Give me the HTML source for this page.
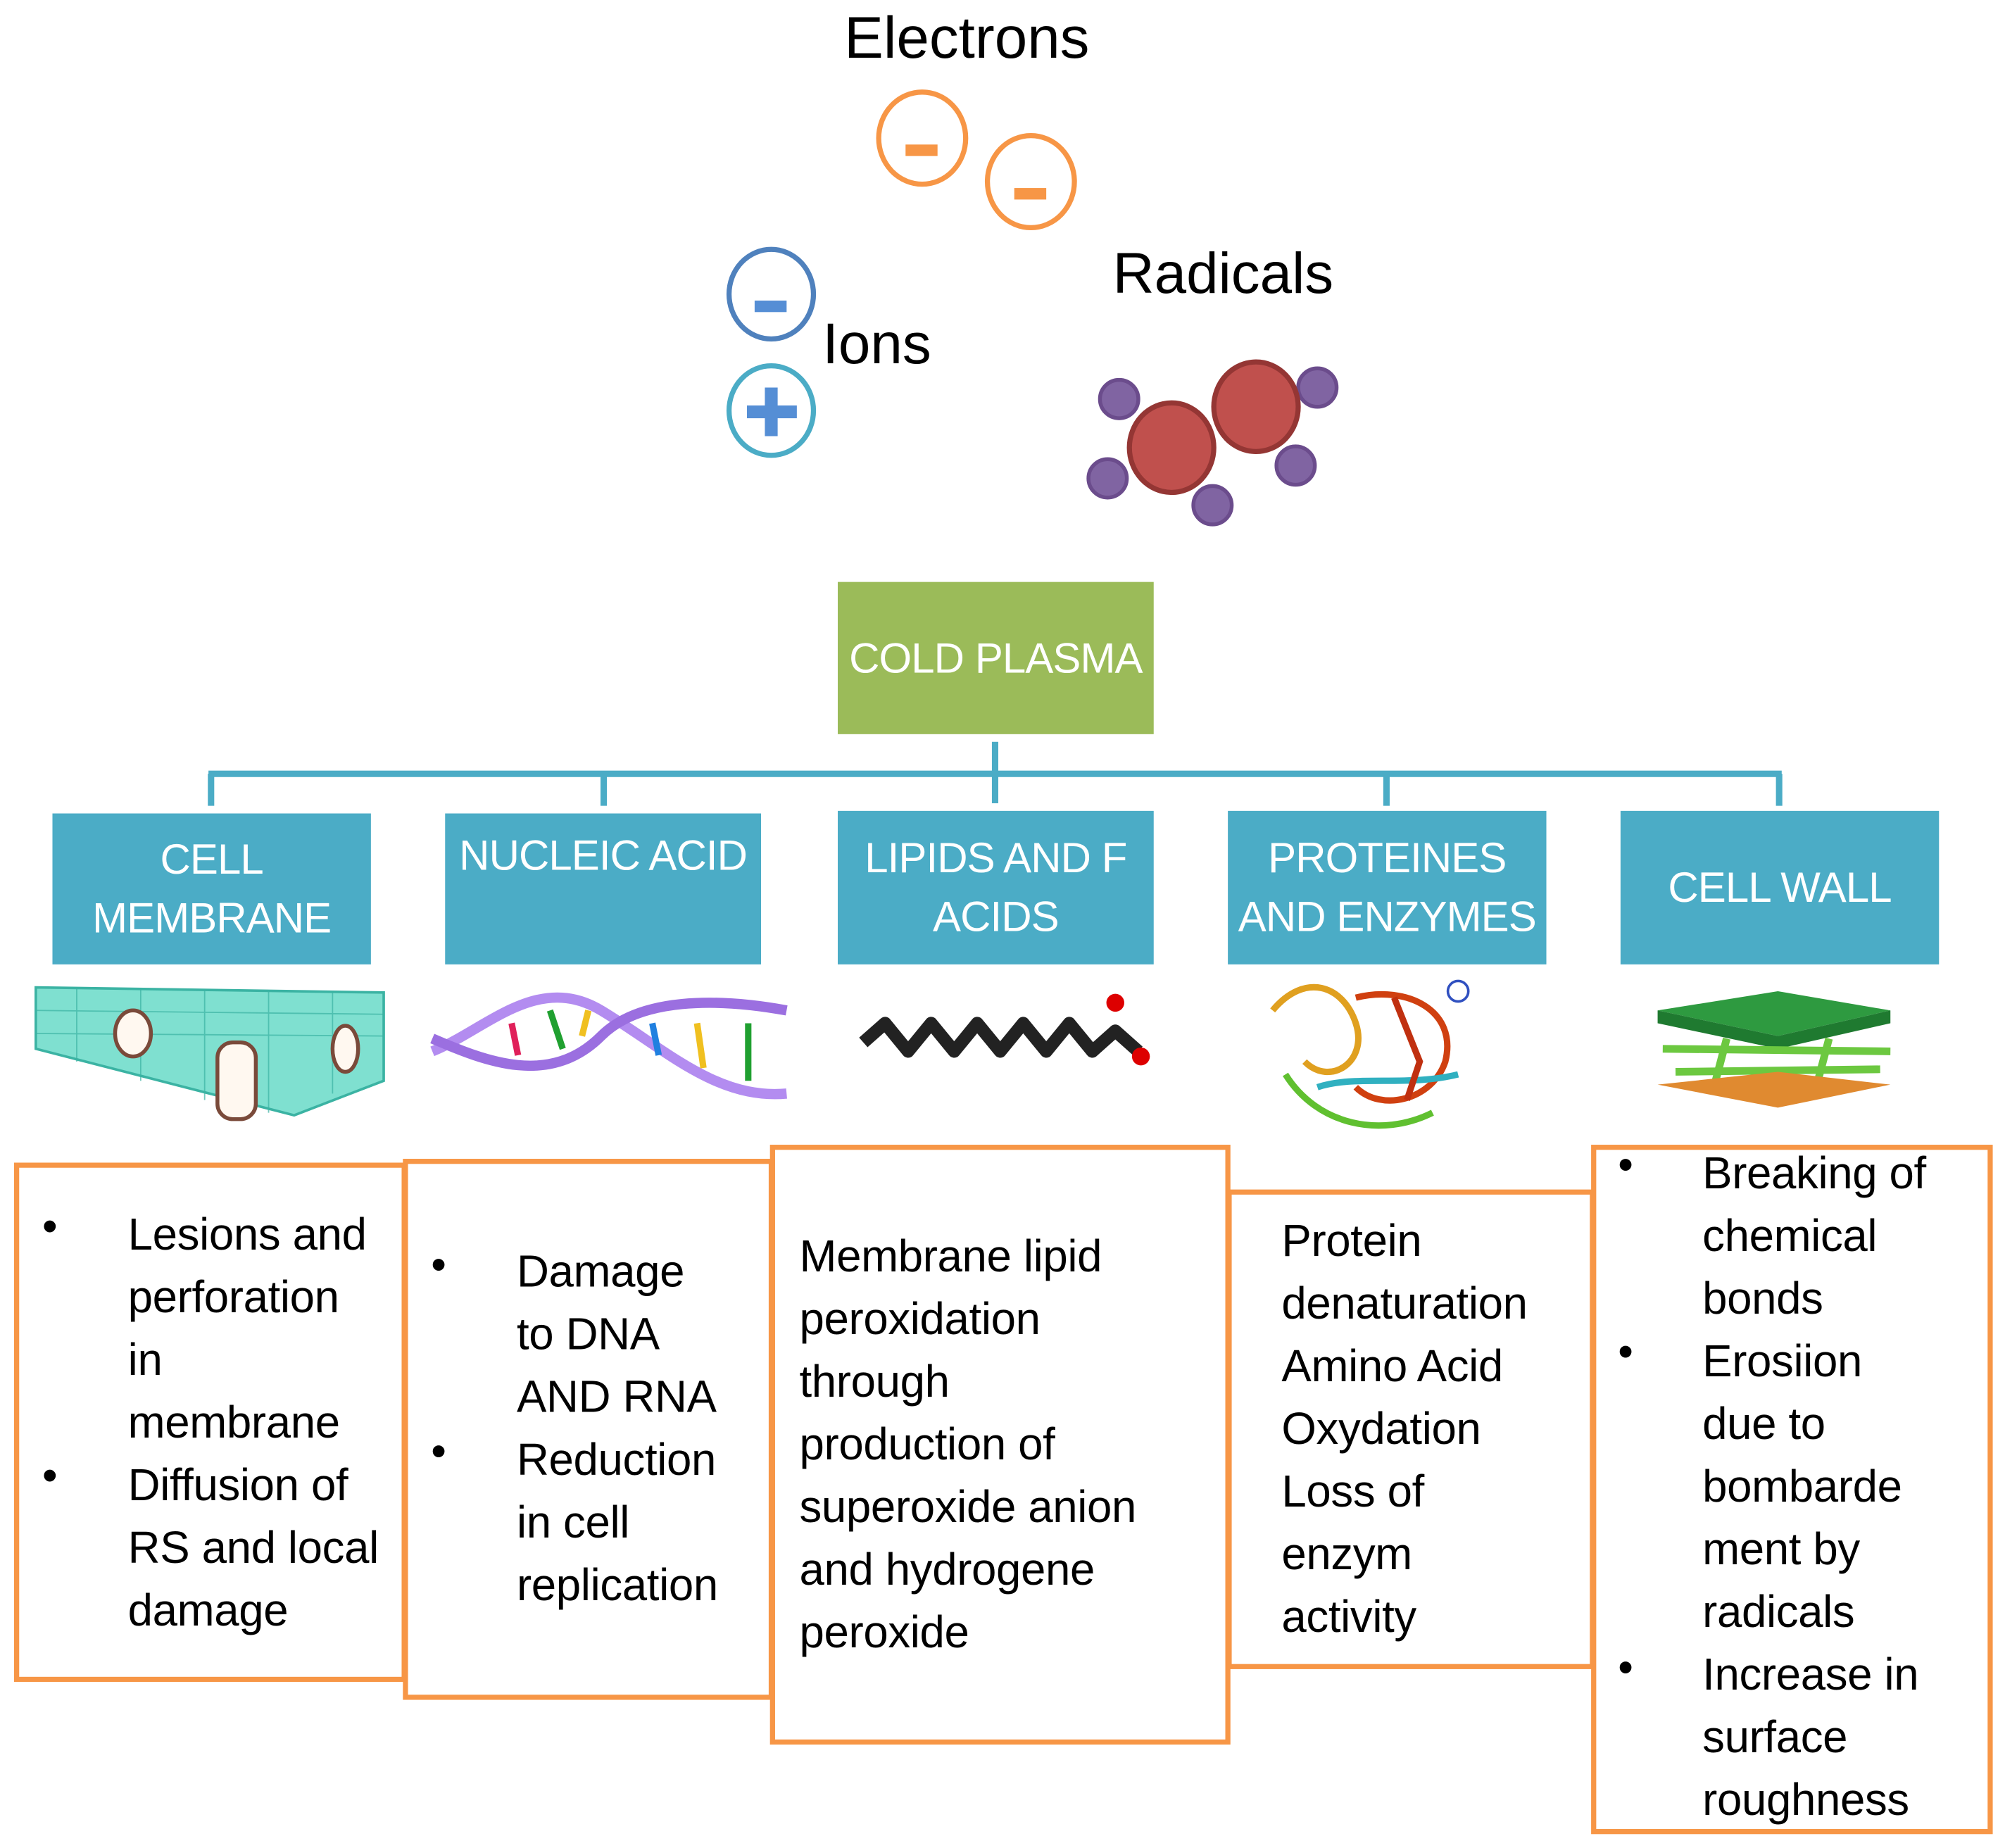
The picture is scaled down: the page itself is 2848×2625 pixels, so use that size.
<!DOCTYPE html>
<html><head><meta charset="utf-8">
<style>
html,body{margin:0;padding:0;background:#fff;}
body{width:2848px;height:2622px;overflow:hidden;position:relative;}
#s{position:absolute;left:0;top:0;width:1570px;height:1445px;transform:scale(1.8168,1.8168);transform-origin:0 0;font-family:"Liberation Sans",sans-serif;}
.t{position:absolute;white-space:nowrap;color:#000;}
.b{position:absolute;background:#4BACC6;color:#fff;font-size:33px;text-align:center;display:flex;align-items:center;justify-content:center;line-height:46px;letter-spacing:-0.5px;}
.o{position:absolute;border:4px solid #F79646;box-sizing:border-box;}
.tx{position:absolute;font-size:35px;line-height:49px;white-space:nowrap;letter-spacing:-0.2px;color:#000;}
.bl{position:absolute;font-size:34px;}
</style></head><body><div id="s">
<svg width="1570" height="1445" style="position:absolute;left:0;top:0">
 <g fill="none" stroke-width="4">
  <ellipse cx="721" cy="108" rx="34" ry="36" stroke="#F79646"/>
  <ellipse cx="806" cy="142" rx="34" ry="36" stroke="#F79646"/>
  <ellipse cx="603" cy="230" rx="33" ry="35" stroke="#4F81BD"/>
  <ellipse cx="603" cy="321" rx="33" ry="35" stroke="#4BACC6"/>
 </g>
 <rect x="708" y="113" width="25" height="9" fill="#F79646"/>
 <rect x="793" y="147" width="25" height="9" fill="#F79646"/>
 <rect x="590" y="235" width="25" height="9" fill="#558ED5"/>
 <rect x="598" y="303" width="10" height="38" fill="#558ED5"/>
 <rect x="584" y="317" width="39" height="10" fill="#558ED5"/>
 <g stroke="#6B4C8C" stroke-width="3" fill="#8064A2">
  <circle cx="875" cy="312" r="15"/><circle cx="866" cy="374" r="15"/><circle cx="948" cy="395" r="15"/><circle cx="1030" cy="303" r="15"/><circle cx="1013" cy="364" r="15"/>
 </g>
 <g stroke="#943634" stroke-width="4" fill="#C0504D">
  <ellipse cx="916" cy="350" rx="33" ry="35"/><ellipse cx="982" cy="318" rx="33" ry="35"/>
 </g>
 <g stroke="#4BACC6" stroke-width="5" fill="none">
  <line x1="778" y1="580" x2="778" y2="628"/>
  <line x1="163" y1="605" x2="1393" y2="605"/>
  <line x1="165" y1="605" x2="165" y2="630"/>
  <line x1="472" y1="605" x2="472" y2="630"/>
  <line x1="1084" y1="605" x2="1084" y2="630"/>
  <line x1="1391" y1="605" x2="1391" y2="630"/>
 </g>
 <!-- membrane -->
 <polygon points="28,772 300,776 300,845 230,872 28,820" fill="#7FE0D0" stroke="#3BB3A3" stroke-width="2"/>
 <g stroke="#3BB3A3" stroke-width="1" opacity=".7">
  <line x1="28" y1="790" x2="300" y2="793"/><line x1="28" y1="808" x2="300" y2="810"/><line x1="60" y1="772" x2="60" y2="830"/><line x1="110" y1="773" x2="110" y2="845"/><line x1="160" y1="774" x2="160" y2="860"/><line x1="210" y1="775" x2="210" y2="870"/><line x1="260" y1="775" x2="260" y2="855"/>
 </g>
 <ellipse cx="104" cy="808" rx="14" ry="18" fill="#fff8f0" stroke="#7a4a3a" stroke-width="3"/>
 <rect x="170" y="815" width="30" height="60" rx="12" fill="#fff8f0" stroke="#7a4a3a" stroke-width="3"/>
 <ellipse cx="270" cy="820" rx="10" ry="18" fill="#fff8f0" stroke="#7a4a3a" stroke-width="3"/>
 <!-- DNA -->
 <path d="M338,822 C380,805 420,760 470,790 C520,820 560,860 615,855" fill="none" stroke="#B38CF0" stroke-width="8"/>
 <path d="M338,812 C380,830 430,850 470,810 C500,780 560,780 615,790" fill="none" stroke="#9B6FE0" stroke-width="8"/>
 <g stroke-width="5"><line x1="400" y1="800" x2="405" y2="825" stroke="#E0205A"/><line x1="430" y1="790" x2="440" y2="820" stroke="#20A030"/><line x1="460" y1="790" x2="455" y2="810" stroke="#F0C020"/><line x1="510" y1="800" x2="515" y2="825" stroke="#2080E0"/><line x1="545" y1="800" x2="550" y2="835" stroke="#F0C020"/><line x1="585" y1="800" x2="585" y2="845" stroke="#20A030"/></g>
 <!-- fatty acid -->
 <polyline points="675,815 692,800 710,822 728,800 746,822 764,800 782,822 800,800 818,822 836,800 854,822 872,806 890,822" fill="none" stroke="#222" stroke-width="10" stroke-linejoin="round"/>
 <circle cx="872" cy="784" r="7" fill="#d00"/><circle cx="892" cy="826" r="7" fill="#d00"/>
 <!-- protein -->
 <g fill="none" stroke-width="5">
  <path d="M995,790 C1020,760 1050,770 1060,800 C1070,830 1040,850 1020,830" stroke="#E0A020"/>
  <path d="M1060,780 C1100,770 1140,790 1130,830 C1120,860 1080,870 1060,850" stroke="#D04010"/>
  <path d="M1005,840 C1030,880 1080,890 1120,870" stroke="#60C030"/>
  <path d="M1030,850 C1060,840 1100,850 1140,840" stroke="#30B0C0"/>
  <path d="M1090,780 L1110,830 L1100,860" stroke="#C03010"/>
  <circle cx="1140" cy="775" r="8" stroke="#3050C0" stroke-width="2"/>
 </g>
 <!-- cell wall -->
 <polygon points="1296,790 1390,775 1478,790 1390,810" fill="#2E9A40"/>
 <polygon points="1296,790 1390,810 1478,790 1478,800 1390,820 1296,800" fill="#1F7A30"/>
 <g stroke="#6CC840" stroke-width="6"><line x1="1300" y1="820" x2="1478" y2="822"/><line x1="1310" y1="838" x2="1470" y2="836"/><line x1="1350" y1="812" x2="1340" y2="850"/><line x1="1430" y1="812" x2="1420" y2="850"/></g>
 <polygon points="1296,848 1390,838 1478,848 1390,866" fill="#E08A30"/>
</svg>
<div class="t" style="left:660px;top:2px;font-size:46px;">Electrons</div>
<div class="t" style="left:643px;top:243px;font-size:45px;">Ions</div>
<div class="t" style="left:870px;top:188px;font-size:45px;">Radicals</div>
<div class="b" style="left:655px;top:455px;width:247px;height:119px;background:#9BBB59;">COLD PLASMA</div>
<div class="b" style="left:41px;top:636px;width:249px;height:118px;">CELL<br>MEMBRANE</div>
<div class="b" style="left:348px;top:636px;width:247px;height:118px;align-items:flex-start;padding-top:10px;box-sizing:border-box;">NUCLEIC ACID</div>
<div class="b" style="left:655px;top:634px;width:247px;height:120px;">LIPIDS AND F<br>ACIDS</div>
<div class="b" style="left:960px;top:634px;width:249px;height:120px;">PROTEINES<br>AND ENZYMES</div>
<div class="b" style="left:1267px;top:634px;width:249px;height:120px;">CELL WALL</div>
<div class="o" style="left:11px;top:909px;width:307px;height:406px;"></div>
<div class="o" style="left:315px;top:906px;width:290px;height:423px;"></div>
<div class="o" style="left:602px;top:895px;width:360px;height:469px;"></div>
<div class="o" style="left:959px;top:930px;width:288px;height:375px;"></div>
<div class="o" style="left:1244px;top:895px;width:314px;height:539px;"></div>
<div class="bl" style="left:33px;top:940px;">•</div><div class="bl" style="left:33px;top:1135px;">•</div>
<div class="tx" style="left:100px;top:941px;">Lesions and<br>perforation<br>in<br>membrane<br>Diffusion of<br>RS and local<br>damage</div>
<div class="bl" style="left:337px;top:970px;">•</div><div class="bl" style="left:337px;top:1116px;">•</div>
<div class="tx" style="left:404px;top:970px;">Damage<br>to DNA<br>AND RNA<br>Reduction<br>in cell<br>replication</div>
<div class="tx" style="left:625px;top:958px;">Membrane lipid<br>peroxidation<br>through<br>production of<br>superoxide anion<br>and hydrogene<br>peroxide</div>
<div class="tx" style="left:1002px;top:946px;">Protein<br>denaturation<br>Amino Acid<br>Oxydation<br>Loss of<br>enzym<br>activity</div>
<div class="bl" style="left:1265px;top:892px;">•</div><div class="bl" style="left:1265px;top:1038px;">•</div><div class="bl" style="left:1265px;top:1285px;">•</div>
<div class="tx" style="left:1331px;top:893px;">Breaking of<br>chemical<br>bonds<br>Erosiion<br>due to<br>bombarde<br>ment by<br>radicals<br>Increase in<br>surface<br>roughness</div>
</div></body></html>
